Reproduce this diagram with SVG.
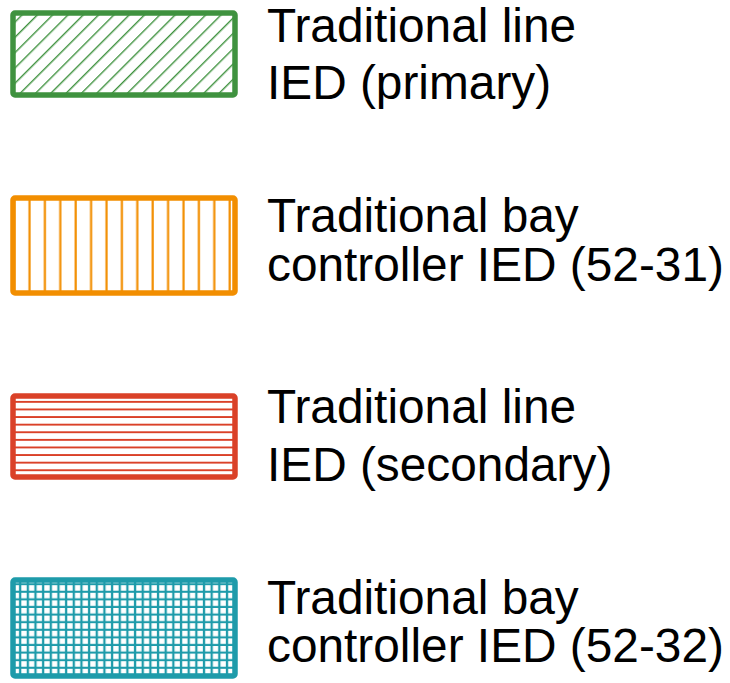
<svg xmlns="http://www.w3.org/2000/svg" width="730" height="683" viewBox="0 0 730 683">
  <style>
    .lbl { font-family: "Liberation Sans", Arial, sans-serif; font-size: 47.8px; fill: #000; }
    .box { stroke-width: 5.5; }
  </style>
  <defs>
    <pattern id="pDiag" patternUnits="userSpaceOnUse" x="3.8" y="0" width="10.82" height="10.82" patternTransform="rotate(45)">
      <rect x="0" y="0" width="1.4" height="10.82" fill="#3F923F"/>
    </pattern>
    <pattern id="pVert" patternUnits="userSpaceOnUse" x="0" y="0" width="15.4" height="20">
      <rect x="13" y="0" width="2.2" height="20" fill="#F28E00"/>
    </pattern>
    <pattern id="pHoriz" patternUnits="userSpaceOnUse" x="0" y="0" width="20" height="7.6">
      <rect x="0" y="5.7" width="20" height="2.2" fill="#DA4128"/>
    </pattern>
    <pattern id="pGrid" patternUnits="userSpaceOnUse" x="0" y="0" width="7.66" height="7.6">
      <rect x="3.7" y="0" width="2.3" height="7.6" fill="#1E9BAA"/>
      <rect x="0" y="5.5" width="7.66" height="2.3" fill="#1E9BAA"/>
    </pattern>
  </defs>

  <g id="legend-primary">
    <rect class="box" x="13" y="13" width="222" height="82" rx="2" fill="url(#pDiag)" stroke="#3F923F"/>
    <text class="lbl" x="267" y="41.5">Traditional line</text>
    <text class="lbl" x="267" y="98.5">IED (primary)</text>
  </g>

  <g id="legend-bay-5231">
    <rect class="box" x="13" y="198" width="222" height="95" rx="2" fill="url(#pVert)" stroke="#F28E00"/>
    <text class="lbl" x="267" y="231.5">Traditional bay</text>
    <text class="lbl" x="267" y="280.5">controller IED (52-31)</text>
  </g>

  <g id="legend-secondary">
    <rect class="box" x="13" y="396" width="222" height="81" rx="2" fill="url(#pHoriz)" stroke="#DA4128"/>
    <text class="lbl" x="267" y="423.3">Traditional line</text>
    <text class="lbl" x="267" y="481">IED (secondary)</text>
  </g>

  <g id="legend-bay-5232">
    <rect class="box" x="13" y="580" width="222" height="96" rx="2" fill="url(#pGrid)" stroke="#1E9BAA"/>
    <text class="lbl" x="267" y="614.3">Traditional bay</text>
    <text class="lbl" x="267" y="662.3">controller IED (52-32)</text>
  </g>

  <g id="connectors"></g>
</svg>
